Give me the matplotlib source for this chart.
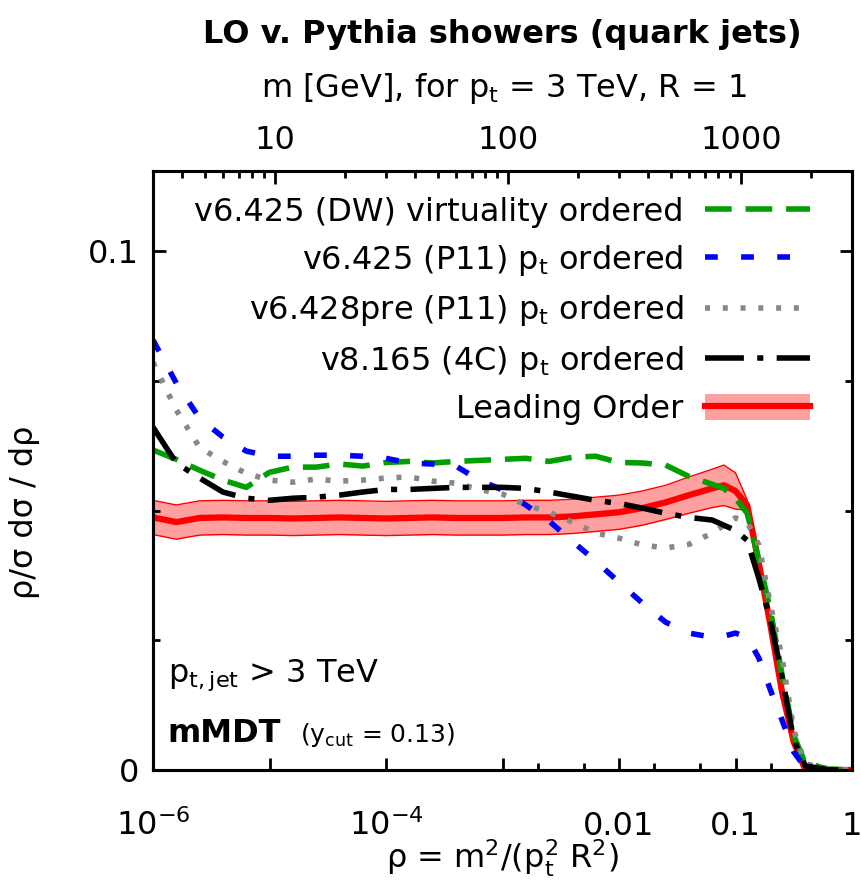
import numpy as np
import matplotlib
matplotlib.use("Agg")
import matplotlib.pyplot as plt
from matplotlib.patches import Patch
from matplotlib.ticker import NullFormatter

plt.rcParams["font.family"] = ["DejaVu Sans"]
plt.rcParams["mathtext.fontset"] = "dejavusans"
plt.rcParams["mathtext.default"] = "regular"

FS = 23
PT = 3000.0  # jet pt in GeV, R = 1

# sampling points, log10(rho)
log_rho = [-6.0, -5.8, -5.6, -5.4, -5.2, -5.0, -4.8, -4.6, -4.4, -4.2,
           -4.0, -3.8, -3.6, -3.4, -3.2, -3.0, -2.8, -2.6, -2.4, -2.2,
           -2.0, -1.8, -1.6, -1.4, -1.2, -1.1, -1.0, -0.9, -0.8, -0.7,
           -0.6, -0.5, -0.4, -0.2, 0.0]

dw_virt = [0.0617, 0.0599, 0.0578, 0.0559, 0.0545, 0.0574, 0.0584, 0.0584, 0.0590, 0.0586,
           0.0593, 0.0595, 0.0592, 0.0595, 0.0597, 0.0599, 0.0601, 0.0595, 0.0603, 0.0605,
           0.0593, 0.0592, 0.0588, 0.0566, 0.0551, 0.0543, 0.0524, 0.0495, 0.0405, 0.0308,
           0.0183, 0.0067, 0.0012, 0.0002, 0.0]
p11_pt = [0.0829, 0.0746, 0.0678, 0.0642, 0.0615, 0.0605, 0.0605, 0.0607, 0.0607, 0.0605,
          0.0601, 0.0592, 0.0590, 0.0586, 0.0559, 0.0540, 0.0511, 0.0480, 0.0441, 0.0403,
          0.0362, 0.0322, 0.0285, 0.0264, 0.0256, 0.0258, 0.0264, 0.0256, 0.0216, 0.0154,
          0.0096, 0.0035, 0.0004, 0.0, 0.0]
p11_pre = [0.0786, 0.0694, 0.0622, 0.0595, 0.0572, 0.0559, 0.0555, 0.0561, 0.0557, 0.0559,
           0.0563, 0.0565, 0.0557, 0.0553, 0.0541, 0.0532, 0.0511, 0.0497, 0.0478, 0.0457,
           0.0447, 0.0434, 0.0428, 0.0435, 0.0457, 0.0472, 0.0486, 0.0478, 0.0434, 0.0318,
           0.0216, 0.0077, 0.0012, 0.0002, 0.0]
v8_4c = [0.0661, 0.0592, 0.0563, 0.0536, 0.0524, 0.0520, 0.0524, 0.0526, 0.0530, 0.0536,
         0.0541, 0.0541, 0.0543, 0.0545, 0.0545, 0.0545, 0.0543, 0.0536, 0.0528, 0.0520,
         0.0514, 0.0505, 0.0495, 0.0487, 0.0482, 0.0472, 0.0462, 0.0443, 0.0370, 0.0289,
         0.0179, 0.0058, 0.0008, 0.0, 0.0]
lo = [0.0487, 0.0478, 0.0486, 0.0487, 0.0486, 0.0486, 0.0485, 0.0486, 0.0487, 0.0486,
      0.0485, 0.0486, 0.0487, 0.0486, 0.0486, 0.0486, 0.0487, 0.0487, 0.0489, 0.0493,
      0.0497, 0.0505, 0.0516, 0.0530, 0.0543, 0.0549, 0.0538, 0.0511, 0.0399, 0.0279,
      0.0150, 0.0054, 0.0, 0.0, 0.0]
lo_err = [0.0033] * 23 + [0.0035, 0.0037, 0.0039, 0.0035, 0.0010, 0.0006, 0.0005,
                          0.0004, 0.0003, 0.0, 0.0, 0.0]

labels = ["v6.425 (DW) virtuality ordered",
          "v6.425 (P11) $p_t$ ordered",
          "v6.428pre (P11) $p_t$ ordered",
          "v8.165 (4C) $p_t$ ordered",
          "Leading Order"]

x_major = [1e-6, 1e-5, 1e-4, 1e-3, 1e-2, 1e-1, 1.0]
x_major_labels = ["10$^{-6}$", "", "10$^{-4}$", "", "0.01", "0.1", "1"]
x_minor = [2e-3, 5e-3, 2e-2, 5e-2, 0.2, 0.5]
m_major = [10, 100, 1000]
m_minor = [4, 5, 6, 7, 8, 9, 20, 30, 40, 50, 60, 70, 80, 90,
           200, 300, 400, 500, 600, 700, 800, 900, 2000]

fig = plt.figure(figsize=(8.61, 8.9), dpi=100)
ax = fig.add_axes([153 / 861, 120 / 890, 699 / 861, 599 / 890])

rho = 10.0 ** np.array(log_rho)
lo_a = np.array(lo)
err = np.array(lo_err)

ax.fill_between(rho, lo_a - err, lo_a + err, color="#ffa0a0", lw=0, zorder=1)
ax.plot(rho, lo_a + err, color="red", lw=1, zorder=1.5)
ax.plot(rho, lo_a - err, color="red", lw=1, zorder=1.5)
lo_line, = ax.plot(rho, lo_a, color="red", lw=4.5, zorder=2)

l_dw, = ax.plot(rho, dw_virt, color="#00a000", lw=4, dashes=(4.8, 2.5), zorder=3)
l_p11, = ax.plot(rho, p11_pt, color="#0000ff", lw=4, dashes=(2.3, 4.2), zorder=3)
l_pre, = ax.plot(rho, p11_pre, color="#888888", lw=4, dashes=(0.9, 2.3), zorder=3)
l_v8, = ax.plot(rho, v8_4c, color="black", lw=4, dashes=(7.0, 2.4, 1.1, 2.4), zorder=3)

band = Patch(facecolor="#ffa0a0", edgecolor="none")
ax.legend([l_dw, l_p11, l_pre, l_v8, (band, lo_line)], labels,
          loc="upper right", bbox_to_anchor=(0.94, 0.957), frameon=False,
          markerfirst=False, handlelength=3.3, handletextpad=0.66,
          handleheight=0.85, labelspacing=0.48, borderpad=0,
          borderaxespad=0, fontsize=FS)

ax.set_xscale("log")
ax.set_xlim(1e-6, 1)
ax.set_ylim(0, 0.1155)
ax.set_xticks(x_major, labels=x_major_labels)
ax.set_xticks(x_minor, minor=True)
ax.xaxis.set_minor_formatter(NullFormatter())
ax.set_yticks([0, 0.1], labels=["0", "0.1"])
ax.set_yticks([0.025, 0.05, 0.075], minor=True)
ax.tick_params(which="both", direction="in", width=2, labelsize=FS,
               right=True, top=False)
ax.tick_params(which="major", length=9)
ax.tick_params(which="minor", length=5)
ax.tick_params(axis="x", pad=47)
ax.tick_params(axis="y", pad=10)
for lbl in ax.get_xticklabels():
    lbl.set_verticalalignment("baseline")
for sp in ax.spines.values():
    sp.set_linewidth(2.2)

# top axis: jet mass for pt = 3 TeV
ax2 = ax.twiny()
ax2.set_xscale("log")
ax2.set_xlim(ax.get_xlim())
ax2.set_xticks([(m / PT) ** 2 for m in m_major], labels=[str(m) for m in m_major])
ax2.set_xticks([(m / PT) ** 2 for m in m_minor], minor=True)
ax2.xaxis.set_minor_formatter(NullFormatter())
ax2.tick_params(which="both", direction="in", width=2, labelsize=FS, pad=11)
ax2.tick_params(which="major", length=9)
ax2.tick_params(which="minor", length=5)
for sp in ax2.spines.values():
    sp.set_linewidth(2.2)

ax.text(0.021, 0.147, "$p_{t,jet}$ > 3 TeV", transform=ax.transAxes,
        fontsize=FS, ha="left", va="baseline")
ax.text(0.021, 0.047, "mMDT", transform=ax.transAxes, fontsize=FS,
        fontweight="bold", ha="left", va="baseline")
ax.text(0.21, 0.047, "($y_{cut}$ = 0.13)", transform=ax.transAxes,
        fontsize=18, ha="left", va="baseline")

fig.text(502 / 861, 1 - 35 / 890, "LO v. Pythia showers (quark jets)",
         fontsize=FS, fontweight="bold", ha="center", va="center")
fig.text(504 / 861, 1 - 88 / 890, "m [GeV], for $p_t$ = 3 TeV, R = 1",
         fontsize=FS, ha="center", va="center")
fig.text(502 / 861, 1 - 858 / 890, "ρ = m$^2$/($p_t^2$ R$^2$)",
         fontsize=FS, ha="center", va="center")
fig.text(25 / 861, 1 - 512 / 890, "ρ/σ dσ / dρ", rotation=90,
         fontsize=FS, ha="center", va="center")

fig.savefig("out.png", dpi=100)
